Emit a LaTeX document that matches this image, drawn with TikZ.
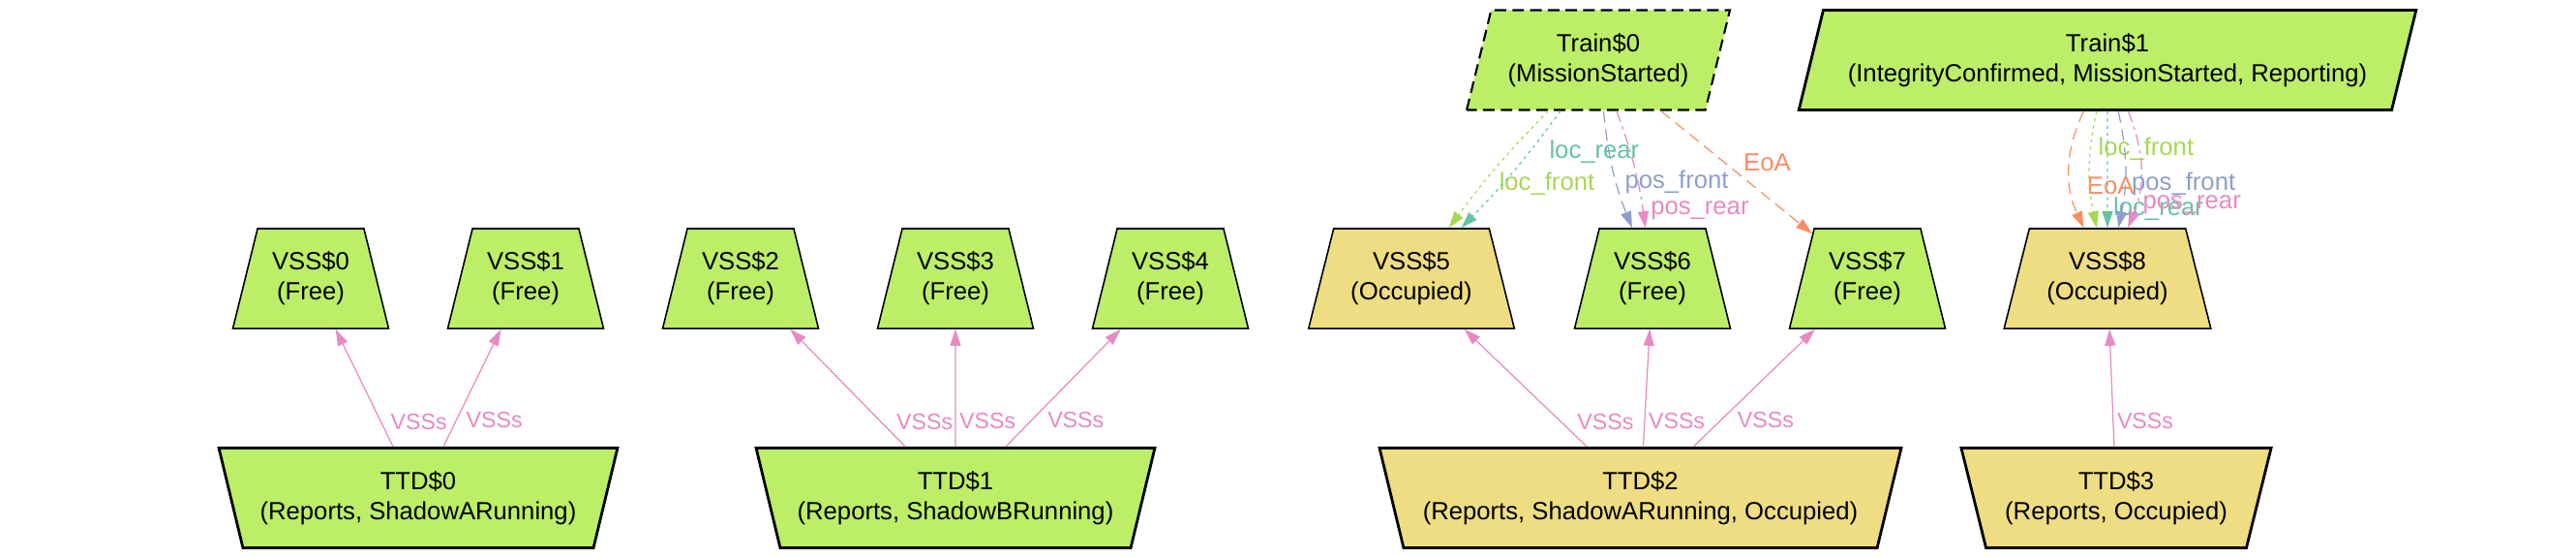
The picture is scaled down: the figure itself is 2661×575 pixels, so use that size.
\documentclass[tikz,border=0pt]{standalone}
\usepackage{fontspec}
\setmainfont{Liberation Sans}
\usetikzlibrary{positioning,arrows.meta,shapes.geometric}
\definecolor{tkFree}{RGB}{188,238,104}
\definecolor{tkOcc}{RGB}{238,221,130}
\definecolor{tkTeal}{RGB}{102,194,165}
\definecolor{tkOrange}{RGB}{252,141,98}
\definecolor{tkBlue}{RGB}{141,160,203}
\definecolor{tkPink}{RGB}{231,138,195}
\definecolor{tkLime}{RGB}{166,216,84}
\tikzset{
  box/.style={trapezium, trapezium left angle=73, trapezium right angle=73,
    trapezium stretches=true, minimum height=1.03cm, align=center, draw=black,
    font=\fontsize{7.3}{8.8}\selectfont},
  vssbox/.style={box, line width=0.45pt},
  ttdbox/.style={box, shape border rotate=180, line width=0.8pt},
  trainbox/.style={box, trapezium right angle=107, line width=0.8pt, fill=tkFree},
  st Free/.style={fill=tkFree},
  st Occupied/.style={fill=tkOcc},
  link/.style={-{Triangle[length=0.17cm,width=0.11cm]}, line width=0.35pt,
    font=\fontsize{7.3}{8.8}\selectfont},
  lbl/.style={inner sep=1pt},
  lblS/.style={lbl, font=\fontsize{6.6}{8}\selectfont},
  lnDot/.style={dash pattern=on 0.9pt off 1.2pt},
  lnDash/.style={dash pattern=on 3.4pt off 2pt},
  lnDashDot/.style={dash pattern=on 3.4pt off 1.4pt on 0.9pt off 1.4pt},
}
\begin{document}
\begin{tikzpicture}[x=0.01cm, y=-0.01cm]
\useasboundingbox (0,0) rectangle (2661,575);
% trains
\node[trainbox, dash pattern=on 3.4pt off 1.8pt, line width=0.6pt, minimum width=2.72cm] (train0) at (1651,62) {Train\$0\\(MissionStarted)};
\node[trainbox, minimum width=6.39cm] (train1) at (2177,62) {Train\$1\\(IntegrityConfirmed, MissionStarted, Reporting)};
% vss row
\foreach \i/\x/\st/\w in {0/321/Free/1.61, 1/543/Free/1.61, 2/765/Free/1.61, 3/987/Free/1.61, 4/1209/Free/1.61,
    5/1458/Occupied/2.13, 6/1707/Free/1.61, 7/1929/Free/1.61, 8/2177/Occupied/2.14}
  \node[vssbox, st \st, minimum width=\w cm] (vss\i) at (\x,287.5) {VSS\$\i\\(\st)};
% ttd row
\node[ttdbox, fill=tkFree, minimum width=4.12cm] (ttd0) at (432,514) {TTD\$0\\(Reports, ShadowARunning)};
\node[ttdbox, fill=tkFree, minimum width=4.12cm] (ttd1) at (987,514) {TTD\$1\\(Reports, ShadowBRunning)};
\node[ttdbox, fill=tkOcc, minimum width=5.39cm] (ttd2) at (1694.5,514) {TTD\$2\\(Reports, ShadowARunning, Occupied)};
\node[ttdbox, fill=tkOcc, minimum width=3.22cm] (ttd3) at (2186,514) {TTD\$3\\(Reports, Occupied)};
% VSSs links
\foreach \t/\v/\a/\p in {0/0/south west/0.11, 0/1/north west/0.33, 1/2/south west/0.11, 1/3/west/0.22,
    1/4/north west/0.33, 2/5/south west/0.11, 2/6/west/0.22, 2/7/north west/0.33, 3/8/west/0.22}
  \draw[link, tkPink] (ttd\t) -- (vss\v) node[lblS, pos=\p, anchor=\a] {VSSs};
% train0 links
\draw[link, tkLime, lnDot] (train0) to[bend right=4] node[lbl, pos=0.51, anchor=north west] {loc\_front} (vss5);
\draw[link, tkTeal, lnDot] (train0) to[bend left=4] node[lbl, pos=0.19, anchor=north west, xshift=0.04cm] {loc\_rear} (vss5);
\draw[link, tkBlue, lnDash] (train0) to[bend right=8] node[lbl, pos=0.75, anchor=south west] {pos\_front} (vss6);
\draw[link, tkPink, lnDashDot] (train0) to[bend left=6] node[lbl, pos=0.97, anchor=south west, xshift=0.02cm] {pos\_rear} (vss6);
\draw[link, tkOrange, lnDash] (train0) -- (vss7) node[lbl, pos=0.52, anchor=south west] {EoA};
% train1 links
\draw[link, tkOrange, lnDash] (train1) to[bend right=25] node[lbl, pos=0.64, anchor=west, xshift=0.13cm] {EoA} (vss8);
\draw[link, tkLime, lnDot] (train1) to[bend right=12] node[lbl, pos=0.31, anchor=west, xshift=0.04cm] {loc\_front} (vss8);
\draw[link, tkTeal, lnDot] (train1) -- (vss8) node[lbl, pos=0.84, anchor=west, xshift=0.02cm] {loc\_rear};
\draw[link, tkBlue, lnDash] (train1) to[bend left=12] node[lbl, pos=0.63, anchor=west, xshift=0.03cm] {pos\_front} (vss8);
\draw[link, tkPink, lnDashDot] (train1) to[bend left=22] node[lbl, pos=0.81, anchor=west, xshift=0.03cm] {pos\_rear} (vss8);
\end{tikzpicture}
\end{document}
